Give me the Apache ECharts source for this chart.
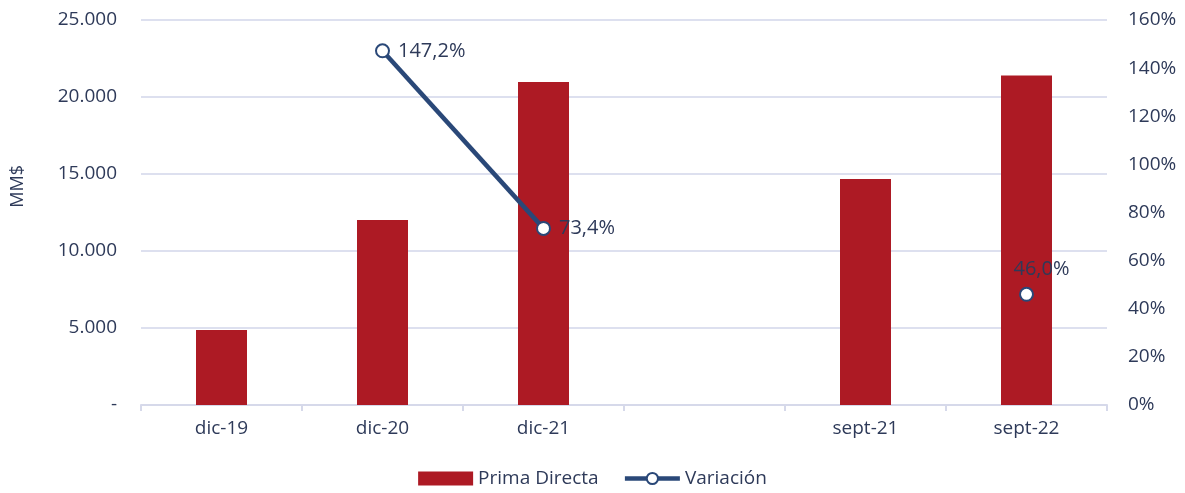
<!DOCTYPE html>
<html><head><meta charset="utf-8">
<script src="https://cdn.jsdelivr.net/npm/echarts@6/dist/echarts.min.js"></script>
<style>html,body{margin:0;padding:0;background:#fff}#c{width:1185px;height:493px}</style>
</head><body><div id="c"></div>
<script>
const categories = ['dic-19','dic-20','dic-21','','sept-21','sept-22'];
const primaDirecta = [4870, 12010, 20970, null, 14680, 21400];
const variacion = [null, 147.2, 73.4, null, null, 46.0];
const variacionLabelPos = ['right','right','right','right','right','top'];

const textColor = '#2e3a59';
const lineColor = '#2a4878';
const font = '"Open Sans", "Noto Sans", sans-serif';
const chart = echarts.init(document.getElementById('c'));
chart.setOption({
  animation: false,
  textStyle: { fontFamily: font },
  grid: { left: 141, right: 78, top: 20, bottom: 88 },
  graphic: [{
    type: 'text', left: 9, top: 165, rotation: Math.PI / 2,
    style: { text: 'MM$', fill: textColor, font: '18px ' + font }
  }],
  legend: {
    bottom: 0, left: 'center', itemGap: 24, itemWidth: 55, itemHeight: 14,
    textStyle: { color: textColor, fontSize: 19, fontFamily: font },
    data: [
      { name: 'Prima Directa', icon: 'rect' },
      { name: 'Variación', lineStyle: { width: 4.5, color: lineColor } }
    ]
  },
  xAxis: {
    type: 'category', data: categories,
    axisLine: { lineStyle: { color: '#d6d9ea', width: 2 } },
    axisTick: { show: true, alignWithLabel: false, length: 6, lineStyle: { color: '#d6d9ea', width: 2 } },
    axisLabel: { color: textColor, fontSize: 19, margin: 14, fontFamily: font }
  },
  yAxis: [{
    type: 'value', min: 0, max: 25000, interval: 5000,
    axisLine: { show: false }, axisTick: { show: false },
    splitLine: { lineStyle: { color: '#dde0ef', width: 2 } },
    axisLabel: {
      color: textColor, fontSize: 19, margin: 24, fontFamily: font,
      formatter: v => v === 0 ? '-' : v.toString().replace(/\B(?=(\d{3})+(?!\d))/g, '.')
    }
  }, {
    type: 'value', min: 0, max: 160, interval: 20,
    axisLine: { show: false }, axisTick: { show: false }, splitLine: { show: false },
    axisLabel: { color: textColor, fontSize: 19, margin: 21, fontFamily: font, formatter: v => v + '%' }
  }],
  series: [{
    name: 'Prima Directa', type: 'bar', data: primaDirecta, barWidth: 51,
    itemStyle: { color: '#ad1a24' }
  }, {
    name: 'Variación', type: 'line', yAxisIndex: 1,
    data: variacion.map((v, i) => ({
      value: v,
      label: { position: variacionLabelPos[i], offset: variacionLabelPos[i] === 'top' ? [15, 0] : [0, 0] }
    })),
    connectNulls: false,
    symbol: 'circle', symbolSize: 13,
    lineStyle: { color: lineColor, width: 4.5 },
    itemStyle: { color: '#ffffff', borderColor: lineColor, borderWidth: 2 },
    label: {
      show: true, color: textColor, fontSize: 20, fontFamily: font, distance: 8,
      formatter: p => p.value == null ? '' : p.value.toFixed(1).replace('.', ',') + '%'
    }
  }]
});
</script></body></html>
